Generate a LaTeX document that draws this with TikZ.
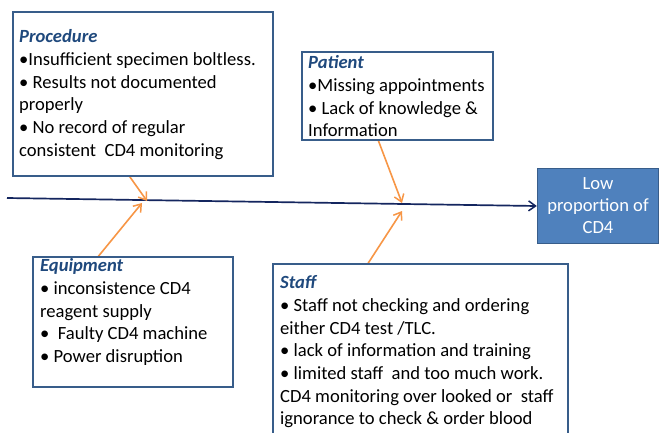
\documentclass[tikz,border=0pt]{standalone}
\usepackage{fontspec}
\setmainfont{Carlito}
\usetikzlibrary{arrows.meta}
\definecolor{boxline}{RGB}{56,93,138}
\definecolor{headblue}{RGB}{31,73,125}
\definecolor{spineblue}{RGB}{20,38,95}
\definecolor{causeorange}{RGB}{247,150,70}
\definecolor{effectfill}{RGB}{79,129,189}
\newcommand{\causehead}[1]{{\color{headblue}\bfseries\itshape #1}}
\tikzset{
  causebox/.style={draw=boxline, line width=1.6pt, fill=white, rectangle, inner sep=0pt, anchor=north west},
  causetext/.style={anchor=north west, inner sep=0pt, align=left, font=\fontsize{18.6}{22.7}\selectfont},
  bone/.style={draw=causeorange, line width=1.6pt, -{Straight Barb[length=7pt,width=10pt,line width=1.5pt]}},
  spine/.style={draw=spineblue, line width=1.7pt, -{Straight Barb[length=7pt,width=10pt,line width=1.5pt]}},
  effect/.style={draw=boxline, line width=1.4pt, fill=effectfill, text=white, inner sep=0pt,
    align=center, font=\fontsize{18.6}{22}\selectfont}
}
\begin{document}
\begin{tikzpicture}[x=1pt,y=-1pt]
\useasboundingbox (0,0) rectangle (667,432);
\fill[white] (0,0) rectangle (667,432);

% effect box at the head of the spine
\node[effect, minimum width=121pt, minimum height=75pt] (low) at (598,206) {Low\\proportion of\\CD4};

% spine
\coordinate (tail) at (7,198);
\draw[spine] (tail) -- (low.west);

% junction points on the spine
\coordinate (jproc) at (147,201);
\coordinate (jequip) at (142,203);
\coordinate (jpat) at (402,203);
\coordinate (jstaff) at (402,211);

% bone starts on the box edges
\coordinate (sproc) at (125,170);
\coordinate (sequip) at (97,258);
\coordinate (spat) at (377,137);
\coordinate (sstaff) at (367,265);

\draw[bone] (sproc) -- (jproc);
\draw[bone] (sequip) -- (jequip);
\draw[bone] (spat) -- (jpat);
\draw[bone] (sstaff) -- (jstaff);

% cause boxes
\node[causebox, minimum width=260pt, minimum height=164pt] (proc) at (12,11) {};
\node[causebox, minimum width=191pt, minimum height=88pt] (pat) at (301,51) {};
\node[causebox, minimum width=200pt, minimum height=130pt] (equip) at (32,256) {};
\node[causebox, minimum width=295pt, minimum height=190pt] (staff) at (272,263) {};

% cause texts
\node[causetext] (proctxt) at (19,29.5) {\causehead{Procedure}\\
•Insufficient specimen boltless.\\
• Results not documented\\
properly\\
• No record of regular\\
consistent~ CD4 monitoring};

\node[causetext] (pattxt) at (308,55.5) {\causehead{Patient}\\
•Missing appointments\\
• Lack of knowledge \&\\
Information};

\node[causetext] (equiptxt) at (40,258.5) {\causehead{Equipment}\\
• inconsistence CD4\\
reagent supply\\
•~ Faulty CD4 machine\\
• Power disruption};

\node[causetext] (stafftxt) at (280,275.5) {\causehead{Staff}\\
• Staff not checking and ordering\\
either CD4 test /TLC.\\
• lack of information and training\\
• limited staff~ and too much work.\\
CD4 monitoring over looked or~ staff\\
ignorance to check \& order blood};
\end{tikzpicture}
\end{document}
